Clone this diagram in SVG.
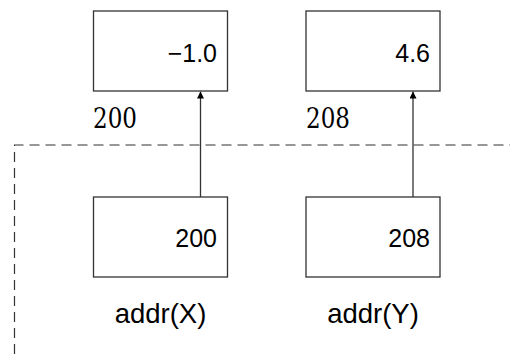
<svg xmlns="http://www.w3.org/2000/svg" width="510" height="354" viewBox="0 0 510 354">
<style>
.box{fill:#fff;stroke:#333;stroke-width:1.3}
.val{font-family:"Liberation Sans","DejaVu Sans",sans-serif;font-size:25px;fill:#000;text-anchor:end}
.lbl{font-family:"Liberation Sans","DejaVu Sans",sans-serif;font-size:27.5px;fill:#000;text-anchor:middle}
.addr{font-family:"DejaVu Serif",serif;font-size:27px;fill:#000}
.conn{stroke:#333;stroke-width:1.3;fill:none}
.dash{stroke:#333;stroke-width:1.2;fill:none;stroke-dasharray:10 6}
</style>
<defs>
<marker id="arr" viewBox="0 0 10 10" refX="10" refY="5" markerWidth="7" markerHeight="7" markerUnits="userSpaceOnUse" orient="auto">
<path d="M0,0 L10,5 L0,10 z" fill="#000"/>
</marker>
</defs>
<path class="dash" d="M14.5,354 V145 H510"/>
<g id="memX">
<rect class="box" x="93.5" y="11" width="134" height="80"/>
<text class="val" x="217" y="62">−1.0</text>
<text class="addr" x="93" y="128" textLength="44" lengthAdjust="spacingAndGlyphs">200</text>
</g>
<g id="memY">
<rect class="box" x="306" y="11" width="134" height="80"/>
<text class="val" x="430" y="62">4.6</text>
<text class="addr" x="306" y="128" textLength="44" lengthAdjust="spacingAndGlyphs">208</text>
</g>
<g id="ptrX">
<rect class="box" x="93.5" y="197" width="134" height="80"/>
<text class="val" x="217" y="247">200</text>
<text class="lbl" x="160.5" y="323">addr(X)</text>
</g>
<g id="ptrY">
<rect class="box" x="306" y="197" width="134" height="80"/>
<text class="val" x="430" y="247">208</text>
<text class="lbl" x="373" y="323">addr(Y)</text>
</g>
<g id="connectors">
<line class="conn" x1="200.5" y1="197" x2="200.5" y2="91.5" marker-end="url(#arr)"/>
<line class="conn" x1="413" y1="197" x2="413" y2="91.5" marker-end="url(#arr)"/>
</g>
</svg>
